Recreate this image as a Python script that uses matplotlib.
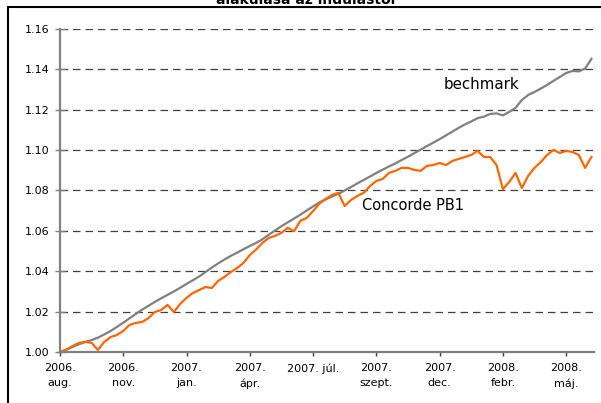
import matplotlib.pyplot as plt
from matplotlib.patches import Rectangle

# index values of the two series (start = 1.00)
benchmark = [1.0000, 1.0012, 1.0025, 1.0038, 1.0050, 1.0059, 1.0071, 1.0087, 1.0104, 1.0124,
             1.0145, 1.0167, 1.0189, 1.0210, 1.0229, 1.0248, 1.0266, 1.0283, 1.0300, 1.0318,
             1.0337, 1.0355, 1.0374, 1.0396, 1.0418, 1.0439, 1.0458, 1.0476, 1.0492, 1.0509,
             1.0525, 1.0540, 1.0558, 1.0581, 1.0602, 1.0623, 1.0642, 1.0661, 1.0680, 1.0701,
             1.0721, 1.0741, 1.0756, 1.0770, 1.0784, 1.0800, 1.0817, 1.0835, 1.0852, 1.0869,
             1.0887, 1.0903, 1.0919, 1.0934, 1.0951, 1.0967, 1.0985, 1.1002, 1.1020, 1.1037,
             1.1054, 1.1073, 1.1091, 1.1110, 1.1127, 1.1142, 1.1158, 1.1166, 1.1179, 1.1182,
             1.1172, 1.1189, 1.1209, 1.1248, 1.1273, 1.1288, 1.1305, 1.1323, 1.1343, 1.1362,
             1.1382, 1.1392, 1.1390, 1.1404, 1.1452]

concorde = [1.0000, 1.0010, 1.0030, 1.0045, 1.0050, 1.0045, 1.0010, 1.0050, 1.0074, 1.0084,
            1.0104, 1.0134, 1.0144, 1.0149, 1.0168, 1.0198, 1.0208, 1.0233, 1.0198, 1.0238,
            1.0268, 1.0292, 1.0307, 1.0322, 1.0317, 1.0352, 1.0372, 1.0396, 1.0416, 1.0441,
            1.0480, 1.0508, 1.0540, 1.0565, 1.0575, 1.0590, 1.0615, 1.0598, 1.0650, 1.0664,
            1.0698, 1.0735, 1.0758, 1.0778, 1.0788, 1.0723, 1.0753, 1.0773, 1.0788, 1.0822,
            1.0847, 1.0857, 1.0887, 1.0897, 1.0912, 1.0912, 1.0902, 1.0897, 1.0922, 1.0926,
            1.0936, 1.0926, 1.0946, 1.0956, 1.0966, 1.0976, 1.0996, 1.0966, 1.0966, 1.0926,
            1.0807, 1.0842, 1.0887, 1.0812, 1.0872, 1.0912, 1.0941, 1.0976, 1.1001, 1.0986,
            1.0996, 1.0991, 1.0976, 1.0912, 1.0966]

tick_labels = ['2006.\naug.', '2006.\nnov.', '2007.\njan.', '2007.\nápr.', '2007. júl.',
               '2007.\nszept.', '2007.\ndec.', '2008.\nfebr.', '2008.\nmáj.']
y_ticks = [1.00, 1.02, 1.04, 1.06, 1.08, 1.10, 1.12, 1.14, 1.16]

x = list(range(len(benchmark)))

fig = plt.figure(figsize=(6.01, 4.03), dpi=100)
ax = fig.add_axes([0.0998, 0.1266, 0.8885, 0.8015])

# outer frame of the chart area and the clipped title
fig.patches.append(Rectangle((8 / 601, -0.1), 1.0, 1.0826, transform=fig.transFigure,
                             fill=False, edgecolor='black', linewidth=1.5))
fig.text(0.508, 0.990, 'alakulása az indulástól', ha='center', va='baseline',
         fontsize=10, fontweight='bold')

ax.plot(x, benchmark, color='#808080', linewidth=1.6)
ax.plot(x, concorde, color='#FF6600', linewidth=1.6)

ax.text(60.7, 1.1323, 'bechmark', fontsize=10.8, va='center')
ax.text(47.7, 1.0728, 'Concorde PB1', fontsize=10.5, va='center')

ax.set_xlim(0, 84.4)
ax.set_ylim(1.0, 1.16)
ax.set_yticks(y_ticks)
ax.set_yticklabels([f'{v:.2f}' for v in y_ticks], fontsize=8)
ax.set_xticks(range(0, 90, 10))
ax.set_xticklabels(tick_labels, fontsize=8, va='top', linespacing=1.6)

ax.grid(axis='y', color='#404040', linestyle=(0, (6, 4)), linewidth=0.9)
ax.set_axisbelow(True)
for side in ['top', 'right']:
    ax.spines[side].set_visible(False)
for side in ['left', 'bottom']:
    ax.spines[side].set_color('#808080')
    ax.spines[side].set_linewidth(1.6)
ax.tick_params(axis='y', direction='inout', length=7, width=1, color='#808080', pad=4)
ax.tick_params(axis='x', length=3, width=1, color='#404040', pad=5)

fig.savefig('out.png', dpi=100)
